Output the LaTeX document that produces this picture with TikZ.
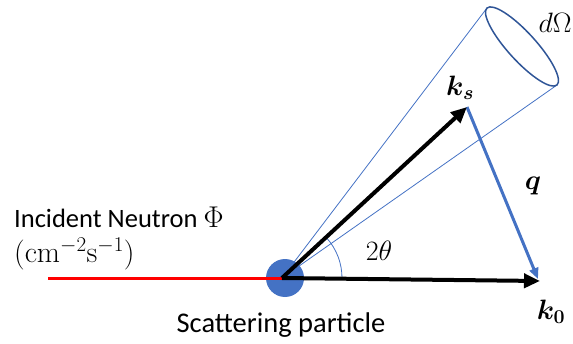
\documentclass[tikz,border=0pt]{standalone}
\usepackage{fix-cm}
\usepackage{amsmath}
\usepackage[no-math]{fontspec}
\setmainfont{Carlito}
\usetikzlibrary{arrows.meta}
\definecolor{mblue}{RGB}{68,114,196}
\definecolor{dblue}{RGB}{47,85,151}
\begin{document}
\begin{tikzpicture}[x=1pt,y=1pt,
  txt/.style={font=\fontsize{26.5}{35}\selectfont, inner sep=0pt},
  mth/.style={font=\fontsize{28}{32}\selectfont, inner sep=0pt},
  kvec/.style={line width=4pt, -{Triangle[length=16pt,width=14pt]}},
  qvec/.style={draw=mblue, line width=3pt, -{Triangle[length=11pt,width=9pt]}},
  conel/.style={draw=mblue, line width=0.8pt},
]
\useasboundingbox (0,0) rectangle (573,343);
% key points
\coordinate (O) at (282,65);
\coordinate (K0) at (540,62);
\coordinate (KS) at (467,236);
\coordinate (QE) at (538,64);
\coordinate (R0) at (48,65);
\coordinate (A) at (487,335);
\coordinate (B) at (557,258);
\coordinate (E) at (522,296.5);
% cone
\draw[conel] (O) -- (A);
\draw[conel] (O) -- (B);
\draw[dblue, line width=1.5pt, rotate around={-47.7:(E)}] (E) ellipse [x radius=52, y radius=14];
% particle and beam
\node[circle, fill=mblue, minimum size=38pt, inner sep=0pt] (P) at (285,65) {};
\draw[red, line width=3pt] (R0) -- (O);
% angle arc
\draw[conel] (O) ++(-0.7:60) arc[start angle=-0.7, end angle=42.7, radius=60];
% vectors
\draw[qvec] (KS) -- (QE);
\draw[kvec] (O) -- (K0);
\draw[kvec] (O) -- (KS);
% labels
\node[mth] (dO) at (555,320) {$d\Omega$};
\node[mth] (ks) at (460,255) {$\boldsymbol{k_s}$};
\node[mth] (q) at (533,157) {$\boldsymbol{q}$};
\node[mth] (k0) at (551,31) {$\boldsymbol{k_0}$};
\node[mth] (th) at (379,92) {$2\theta$};
\node[txt, align=left, anchor=north west] (inc) at (14,136.5)
  {Incident Neutron {\fontsize{30}{34}\selectfont$\Phi$}\\
   {\fontsize{30}{34}\selectfont$(\mathrm{cm}^{-2}\mathrm{s}^{-1})$}};
\node[txt, anchor=base, font=\fontsize{28.5}{32}\selectfont] (sp) at (281,11) {Scattering particle};
\end{tikzpicture}
\end{document}
